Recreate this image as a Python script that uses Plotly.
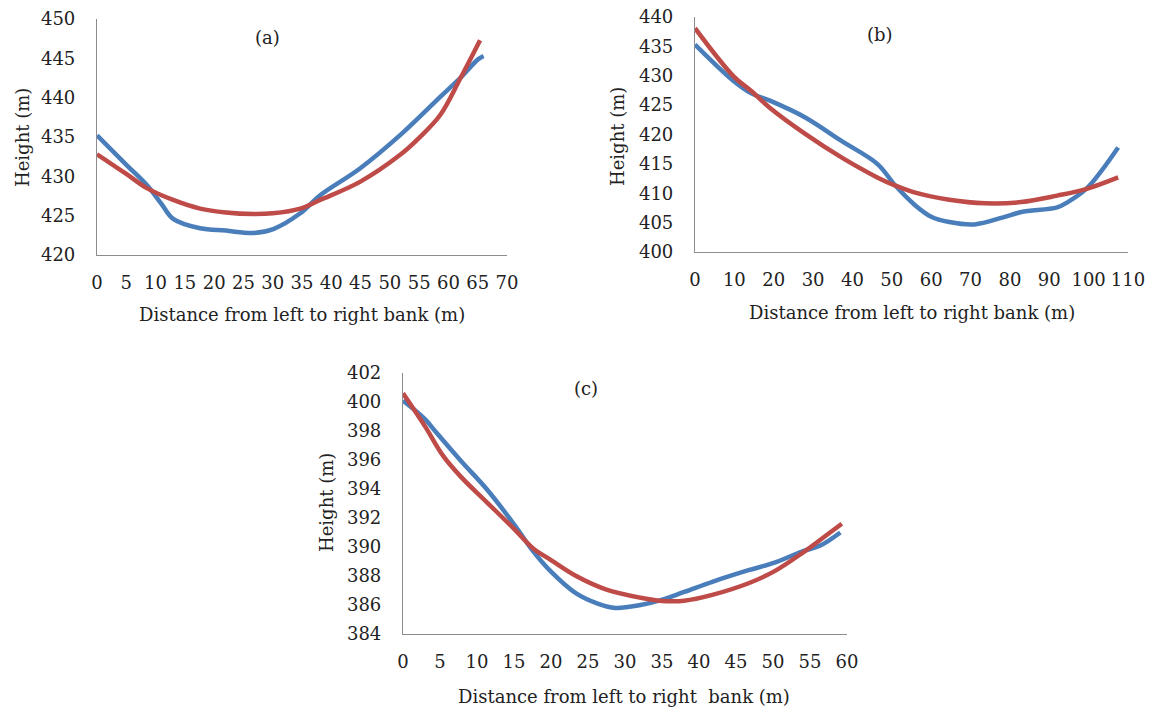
import plotly.graph_objects as go

# ---------------- data ----------------
# Panel (a)
a_x_obs = [0, 5.1, 8.5, 11, 13.0, 17.6, 22, 26.7, 30.1, 34.7, 38.1, 44.9, 51.7, 58.6, 62, 65.1, 66]
a_h_obs = [435.2, 431.4, 428.9, 426.5, 424.6, 423.4, 423.1, 422.8, 423.3, 425.3, 427.6, 431.0, 435.2, 440.1, 442.5, 444.9, 445.3]
a_x_fit = [0, 5, 8.5, 13.0, 17.6, 22, 26.7, 30, 34.7, 38.1, 44.9, 51.7, 55, 58.6, 62.0, 65.4]
a_h_fit = [432.8, 430.3, 428.5, 427.0, 425.9, 425.4, 425.2, 425.3, 425.9, 427.0, 429.3, 432.7, 434.9, 437.8, 442.4, 447.3]

# Panel (b)
b_x_obs = [0, 9.8, 14.3, 18.9, 28, 37.2, 46.3, 50.9, 55.5, 60, 64.6, 71, 78.3, 82.9, 92, 94.7, 99.3, 103, 107.5]
b_h_obs = [435.3, 429.1, 427.0, 425.8, 422.9, 418.9, 415.0, 411.3, 408.2, 406.0, 405.1, 404.7, 405.9, 406.8, 407.6, 408.5, 410.7, 413.6, 417.8]
b_x_fit = [0, 9.8, 14.3, 18.9, 28, 37.2, 46.3, 50.9, 55.5, 64.6, 73.7, 82.9, 92, 99.3, 107.5]
b_h_fit = [438.1, 429.9, 427.4, 424.6, 420.1, 416.1, 412.7, 411.3, 410.2, 408.9, 408.3, 408.5, 409.6, 410.7, 412.7]

# Panel (c)
c_x_obs = [0, 3, 4.5, 7.9, 11.3, 15.1, 17.6, 20, 23.4, 26.3, 28.7, 32.1, 34.6, 38, 41.8, 46.7, 50.1, 54, 56.4, 59.1]
c_h_obs = [400.1, 398.8, 397.9, 395.9, 394.0, 391.5, 389.7, 388.3, 386.8, 386.1, 385.8, 386.0, 386.3, 386.9, 387.6, 388.4, 388.9, 389.7, 390.1, 391.0]
c_x_fit = [0, 3, 5.4, 7.9, 11.3, 15.1, 17.6, 20, 23.4, 27.3, 32.1, 34.6, 38, 41.8, 46.7, 50.1, 54, 56.4, 59.3]
c_h_fit = [400.6, 398.3, 396.3, 394.8, 393.1, 391.2, 389.9, 389.1, 388.0, 387.1, 386.5, 386.3, 386.3, 386.7, 387.5, 388.3, 389.6, 390.5, 391.6]

panel_labels = ["(a)", "(b)", "(c)"]
x_title = "Distance from left to right bank (m)"
x_title_c = "Distance from left to right  bank (m)"
y_title = "Height (m)"

BLUE = "#4A7EBB"
RED = "#BE4B48"
W, H = 1153, 713
FONT = "DejaVu Serif"


def px(x):
    return x / W


def py(y):
    return 1 - y / H


fig = go.Figure()

panels = [
    dict(xa="x", ya="y", xo=a_x_obs, ho=a_h_obs, xf=a_x_fit, hf=a_h_fit),
    dict(xa="x2", ya="y2", xo=b_x_obs, ho=b_h_obs, xf=b_x_fit, hf=b_h_fit),
    dict(xa="x3", ya="y3", xo=c_x_obs, ho=c_h_obs, xf=c_x_fit, hf=c_h_fit),
]
for p in panels:
    fig.add_trace(go.Scatter(x=p["xo"], y=p["ho"], mode="lines", xaxis=p["xa"], yaxis=p["ya"],
                             line=dict(color=BLUE, width=4.5, shape="spline", smoothing=1.0),
                             showlegend=False, hoverinfo="skip"))
    fig.add_trace(go.Scatter(x=p["xf"], y=p["hf"], mode="lines", xaxis=p["xa"], yaxis=p["ya"],
                             line=dict(color=RED, width=4.5, shape="spline", smoothing=1.0),
                             showlegend=False, hoverinfo="skip"))

axis_common = dict(showgrid=False, zeroline=False, showline=True, linecolor="#8c8c8c",
                   linewidth=1.2, ticks="outside", tickcolor="rgba(0,0,0,0)",
                   tickfont=dict(family=FONT, size=18, color="#222"),
                   ticklabeloverflow="allow",
                   automargin=False, fixedrange=True)
xax = dict(ticklen=11, **axis_common)
yax = dict(ticklen=17, **axis_common)

fig.update_layout(
    width=W, height=H,
    margin=dict(l=0, r=0, t=0, b=0, autoexpand=False),
    paper_bgcolor="white", plot_bgcolor="white",
    xaxis=dict(domain=[px(97), px(507)], range=[0, 70], tickvals=list(range(0, 71, 5)),
               anchor="y", **xax),
    yaxis=dict(domain=[py(255), py(19)], range=[420, 450], tickvals=list(range(420, 451, 5)),
               anchor="x", **yax),
    xaxis2=dict(domain=[px(695), px(1128)], range=[0, 110], tickvals=list(range(0, 111, 10)),
                anchor="y2", **xax),
    yaxis2=dict(domain=[py(252), py(17)], range=[400, 440], tickvals=list(range(400, 441, 5)),
                anchor="x2", **yax),
    xaxis3=dict(domain=[px(403), px(847)], range=[0, 60], tickvals=list(range(0, 61, 5)),
                anchor="y3", **xax),
    yaxis3=dict(domain=[py(634), py(373)], range=[384, 402], tickvals=list(range(384, 403, 2)),
                anchor="x3", **yax),
)

ann_font = dict(family=FONT, size=18, color="#222")
annotations = [
    # panel labels
    dict(text=panel_labels[0], x=px(267), y=py(37)),
    dict(text=panel_labels[1], x=px(880), y=py(35)),
    dict(text=panel_labels[2], x=px(586), y=py(388)),
    # x titles
    dict(text=x_title, x=px(302), y=py(314)),
    dict(text=x_title, x=px(912), y=py(312)),
    dict(text=x_title_c, x=px(624), y=py(696)),
    # y titles
    dict(text=y_title, x=px(22), y=py(138), textangle=-90),
    dict(text=y_title, x=px(617), y=py(137), textangle=-90),
    dict(text=y_title, x=px(327), y=py(503), textangle=-90),
]
for a in annotations:
    a.update(xref="paper", yref="paper", showarrow=False, font=ann_font,
             xanchor="center", yanchor="middle")
fig.update_layout(annotations=annotations)

# remove the browser's default 8px page margin so the figure sits at the window's corner
fig.write_html("out.html", config={"displayModeBar": False},
               post_script="document.body.style.margin='0';")
